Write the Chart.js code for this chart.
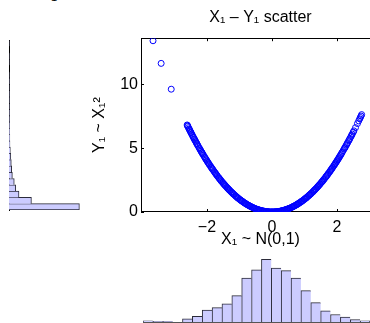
<!DOCTYPE html>
<html>
<head>
<meta charset="utf-8">
<script src="https://cdn.jsdelivr.net/npm/chart.js@4.4.0/dist/chart.umd.min.js"></script>
<style>
  html, body { margin: 0; padding: 0; background: #fff; overflow: hidden; width: 370px; height: 323px; }
  canvas { position: absolute; }
  .frag { position: absolute; left: 51px; top: -9px; font: 11px "Liberation Sans", Arial, sans-serif; color: #000; }
</style>
</head>
<body>
<div class="frag">1</div>
<canvas id="yHist" width="90" height="174" style="left:9px;top:38px"></canvas>
<canvas id="scatter" width="300" height="250" style="left:80px;top:0px"></canvas>
<canvas id="xHist" width="227" height="73" style="left:143px;top:250px"></canvas>
<script>
// scatter samples (X1, Y1 = X1^2)
const xVals = [-3.66, -3.41, -3.10,
  -2.61, -2.59, -2.57, -2.54, -2.52, -2.49, -2.45, -2.41, -2.38, -2.34, -2.31, -2.27, -2.22, -2.18, -2.15, -2.11,
  -2.06, -2.02, -1.98, -1.94, -1.89, -1.85, -1.81, -1.76, -1.72, -1.68, -1.63, -1.59, -1.55, -1.50, -1.46, -1.42,
  -1.37, -1.33, -1.29, -1.24, -1.20, -1.16, -1.11, -1.07, -1.03, -0.98, -0.94, -0.90, -0.85, -0.81, -0.77, -0.72,
  -0.68, -0.64, -0.59, -0.55, -0.51, -0.46, -0.42, -0.38, -0.33, -0.29, -0.25, -0.20, -0.16, -0.12, -0.07, -0.03,
  0.01, 0.05, 0.10, 0.14, 0.18, 0.23, 0.27, 0.31, 0.36, 0.40, 0.44, 0.49, 0.53, 0.57, 0.62, 0.66, 0.70, 0.75,
  0.79, 0.83, 0.88, 0.92, 0.96, 1.01, 1.05, 1.09, 1.14, 1.18, 1.22, 1.27, 1.31, 1.35, 1.40, 1.44, 1.48, 1.53,
  1.57, 1.61, 1.66, 1.70, 1.74, 1.79, 1.83, 1.87, 1.92, 1.96, 2.00, 2.04, 2.08, 2.12, 2.16, 2.19, 2.22, 2.26,
  2.29, 2.33, 2.36, 2.40, 2.43, 2.47, 2.52, 2.57, 2.63, 2.67, 2.70, 2.72, 2.74, 2.76,
  -2.60, -2.55, -2.50, -2.47, -2.43, -2.39, -2.36, -2.32, -2.29, -2.24, -2.20, -2.16, -2.13, -2.08, -2.04, -2.00,
  -1.96, -1.92, -1.87, -1.83, -1.78, -1.74, -1.70, -1.65, -1.61, -1.57, -1.52, -1.48, -1.44, -1.39, -1.35, -1.31,
  -1.26, -1.22, -1.18, -1.13, -1.09, -1.05, -1.00, -0.96, -0.92, -0.87, -0.83, -0.79, -0.74, -0.70, -0.66, -0.61,
  -0.57, -0.53, -0.48, -0.44, -0.40, -0.35, -0.31, -0.27, -0.22, -0.18, -0.14, -0.09, -0.05, -0.01,
  0.03, 0.08, 0.12, 0.16, 0.21, 0.25, 0.29, 0.34, 0.38, 0.42, 0.47, 0.51, 0.55, 0.60, 0.64, 0.68, 0.73, 0.77,
  0.81, 0.86, 0.90, 0.94, 0.99, 1.03, 1.07, 1.12, 1.16, 1.20, 1.25, 1.29, 1.33, 1.38, 1.42, 1.46, 1.51, 1.55,
  1.59, 1.64, 1.68, 1.72, 1.77, 1.81, 1.85, 1.90, 1.94, 1.98, 2.02, 2.06, 2.10, 2.14, 2.24, 2.31, 2.38, 2.45, 2.50,
  -0.24, -0.11, 0.00, 0.07, 0.20, 0.32, -0.36, 0.45];
const yVals = [13.40, 11.63, 9.61,
  6.81, 6.71, 6.60, 6.45, 6.35, 6.20, 6.00, 5.81, 5.66, 5.48, 5.34, 5.15, 4.93, 4.75, 4.62, 4.45,
  4.24, 4.08, 3.92, 3.76, 3.57, 3.42, 3.28, 3.10, 2.96, 2.82, 2.66, 2.53, 2.40, 2.25, 2.13, 2.02,
  1.88, 1.77, 1.66, 1.54, 1.44, 1.35, 1.23, 1.14, 1.06, 0.96, 0.88, 0.81, 0.72, 0.66, 0.59, 0.52,
  0.46, 0.41, 0.35, 0.30, 0.26, 0.21, 0.18, 0.14, 0.11, 0.08, 0.06, 0.04, 0.03, 0.01, 0.00, 0.00,
  0.00, 0.00, 0.01, 0.02, 0.03, 0.05, 0.07, 0.10, 0.13, 0.16, 0.19, 0.24, 0.28, 0.32, 0.38, 0.44, 0.49, 0.56,
  0.62, 0.69, 0.77, 0.85, 0.92, 1.02, 1.10, 1.19, 1.30, 1.39, 1.49, 1.61, 1.72, 1.82, 1.96, 2.07, 2.19, 2.34,
  2.46, 2.59, 2.76, 2.89, 3.03, 3.20, 3.35, 3.50, 3.69, 3.84, 4.00, 4.16, 4.33, 4.49, 4.67, 4.80, 4.93, 5.11,
  5.24, 5.43, 5.57, 5.76, 5.90, 6.10, 6.35, 6.60, 6.92, 7.13, 7.29, 7.40, 7.51, 7.62,
  6.76, 6.50, 6.25, 6.10, 5.90, 5.71, 5.57, 5.38, 5.24, 5.02, 4.84, 4.67, 4.54, 4.33, 4.16, 4.00,
  3.84, 3.69, 3.50, 3.35, 3.17, 3.03, 2.89, 2.72, 2.59, 2.46, 2.31, 2.19, 2.07, 1.93, 1.82, 1.72,
  1.59, 1.49, 1.39, 1.28, 1.19, 1.10, 1.00, 0.92, 0.85, 0.76, 0.69, 0.62, 0.55, 0.49, 0.44, 0.37,
  0.32, 0.28, 0.23, 0.19, 0.16, 0.12, 0.10, 0.07, 0.05, 0.03, 0.02, 0.01, 0.00, 0.00,
  0.00, 0.01, 0.01, 0.03, 0.04, 0.06, 0.08, 0.12, 0.14, 0.18, 0.22, 0.26, 0.30, 0.36, 0.41, 0.46, 0.53, 0.59,
  0.66, 0.74, 0.81, 0.88, 0.98, 1.06, 1.14, 1.25, 1.35, 1.44, 1.56, 1.66, 1.77, 1.90, 2.02, 2.13, 2.28, 2.40,
  2.53, 2.69, 2.82, 2.96, 3.13, 3.28, 3.42, 3.61, 3.76, 3.92, 4.08, 4.24, 4.41, 4.58, 5.02, 5.34, 5.66, 6.00, 6.25,
  0.06, 0.01, 0.00, 0.00, 0.04, 0.10, 0.13, 0.20];
const xTicks = [-2, 0, 2];
const yTicks = [0, 5, 10];

// histogram of X1 (bottom), 23 bins, left to right
const xHistCounts = [2, 1, 1, 0, 5, 9, 19, 23, 29, 42, 70, 83, 100, 86, 82, 70, 50, 31, 18, 12, 8, 4, 2];
// histogram of Y1 (left), 27 bins, bottom to top
const yHistCounts = [521, 166, 74, 50, 39, 25, 20, 17, 13, 10, 7, 6, 5, 4, 3, 3, 2, 2, 2, 1, 2, 1, 0, 1, 1, 0, 1];

const FONT = '"Liberation Sans", Arial, Helvetica, sans-serif';
const barFill = 'rgb(204,204,255)';
const barEdge = '#2b2b3a';

const matlabAxes = {
  id: 'matlabAxes',
  beforeDatasetsDraw(chart) {
    const { ctx, chartArea: a, scales } = chart;
    ctx.save();
    ctx.strokeStyle = '#000';
    ctx.lineWidth = 1;
    ctx.strokeRect(Math.round(a.left) + 0.5, Math.round(a.top) + 0.5,
      Math.round(a.right - a.left), Math.round(a.bottom - a.top) - 1);
    ctx.beginPath();
    scales.x.ticks.forEach(t => {
      const px = Math.round(scales.x.getPixelForValue(t.value)) + 0.5;
      ctx.moveTo(px, a.bottom); ctx.lineTo(px, a.bottom - 3);
      ctx.moveTo(px, a.top); ctx.lineTo(px, a.top + 3);
    });
    scales.y.ticks.forEach(t => {
      const py = Math.round(scales.y.getPixelForValue(t.value)) + 0.5;
      ctx.moveTo(a.left, py); ctx.lineTo(a.left + 3, py);
    });
    ctx.stroke();
    ctx.restore();
  }
};

new Chart(document.getElementById('scatter').getContext('2d'), {
  type: 'scatter',
  data: {
    datasets: [{
      data: xVals.map((x, i) => ({ x: x, y: yVals[i] })),
      pointStyle: 'circle',
      pointRadius: 3,
      borderColor: '#0000ff',
      backgroundColor: 'rgba(0,0,0,0)',
      borderWidth: 1
    }]
  },
  options: {
    responsive: false,
    animation: false,
    layout: { padding: 0, autoPadding: false },
    plugins: {
      legend: { display: false },
      tooltip: { enabled: false },
      title: {
        display: true,
        fullSize: false,
        text: 'X\u2081 \u2013 Y\u2081 scatter',
        color: '#000',
        font: { family: FONT, size: 16, weight: 'normal', lineHeight: 1.2 },
        padding: { top: 8, bottom: 11 }
      }
    },
    scales: {
      x: {
        type: 'linear',
        min: -4.03,
        max: 3.324,
        afterBuildTicks: s => { s.ticks = xTicks.map(v => ({ value: v })); },
        afterFit: s => { s.height = 38; },
        grid: { display: false, drawTicks: false },
        border: { display: false },
        ticks: {
          padding: 6,
          color: '#000',
          font: { family: FONT, size: 16 },
          callback: v => String(v).replace('-', '\u2212')
        },
        title: {
          display: true,
          text: 'X\u2081 ~ N(0,1)',
          color: '#000',
          font: { family: FONT, size: 16, lineHeight: 1.2 },
          padding: { top: 0, bottom: 1 }
        }
      },
      y: {
        type: 'linear',
        min: 0,
        max: 13.6,
        afterBuildTicks: s => { s.ticks = yTicks.map(v => ({ value: v })); },
        afterFit: s => { s.width = 61; },
        grid: { display: false, drawTicks: false },
        border: { display: false },
        ticks: {
          padding: 3,
          color: '#000',
          font: { family: FONT, size: 16 }
        },
        title: {
          display: true,
          text: 'Y\u2081 ~ X\u2081\u00b2',
          color: '#000',
          font: { family: FONT, size: 16, lineHeight: 1.2 },
          padding: { top: 10, bottom: 0 }
        }
      }
    }
  },
  plugins: [matlabAxes]
});

new Chart(document.getElementById('xHist').getContext('2d'), {
  type: 'bar',
  data: {
    labels: xHistCounts.map((_, i) => i),
    datasets: [{
      data: xHistCounts,
      backgroundColor: barFill,
      borderColor: barEdge,
      borderWidth: c => ({ top: 1, left: 1, bottom: 0, right: c.dataIndex === xHistCounts.length - 1 ? 1 : 0 }),
      borderSkipped: false,
      barPercentage: 1,
      categoryPercentage: 1
    }]
  },
  options: {
    responsive: false,
    animation: false,
    layout: { padding: { bottom: 1 } },
    plugins: { legend: { display: false }, tooltip: { enabled: false } },
    scales: {
      x: {
        grid: { display: false, drawTicks: false },
        ticks: { display: false },
        border: { display: true, color: '#555' }
      },
      y: { display: false, min: 0, max: 114.8 }
    }
  }
});

new Chart(document.getElementById('yHist').getContext('2d'), {
  type: 'bar',
  data: {
    labels: yHistCounts.map((_, i) => i),
    datasets: [{
      data: yHistCounts,
      backgroundColor: barFill,
      borderColor: barEdge,
      borderWidth: c => ({ top: 1, right: 1, left: 0, bottom: c.dataIndex === 0 ? 1 : 0 }),
      borderSkipped: false,
      barPercentage: 1,
      categoryPercentage: 1
    }]
  },
  options: {
    indexAxis: 'y',
    responsive: false,
    animation: false,
    layout: { padding: { top: 2, bottom: 2 } },
    plugins: { legend: { display: false }, tooltip: { enabled: false } },
    scales: {
      y: {
        reverse: true,
        grid: { display: false, drawTicks: false },
        ticks: { display: false },
        border: { display: true, color: '#000' }
      },
      x: { display: false, min: 0, max: 666 }
    }
  }
});
</script>
</body>
</html>
